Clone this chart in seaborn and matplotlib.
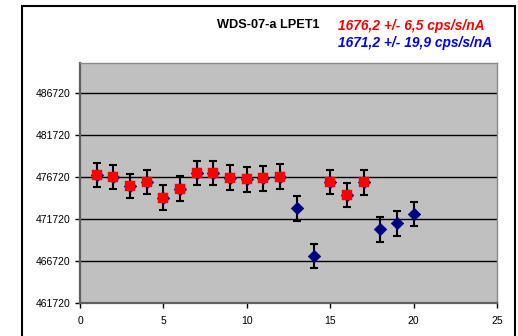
import matplotlib
matplotlib.use("Agg")
import matplotlib.pyplot as plt
import seaborn as sns
import pandas as pd
from matplotlib.patches import Rectangle

# Data
run_index = [1, 2, 3, 4, 5, 6, 7, 8, 9, 10, 11, 12, 13, 14, 15, 16, 17, 18, 19, 20]
counts = [476960, 476720, 475650, 476160, 474260, 475330, 477160, 477200, 476640, 476440,
          476560, 476760, 472990, 467350, 476160, 474580, 476080, 470490, 471200, 472280]
error = [1450] * 20
red_series = [1, 2, 3, 4, 5, 6, 7, 8, 9, 10, 11, 12, 15, 16, 17]
title = "WDS-07-a LPET1"
label_red = "1676,2 +/- 6,5 cps/s/nA"
label_blue = "1671,2 +/- 19,9 cps/s/nA"
y_ticks = [461720, 466720, 471720, 476720, 481720, 486720]
x_ticks = [0, 5, 10, 15, 20, 25]

df = pd.DataFrame({"x": run_index, "y": counts, "err": error})
df_red = df[df["x"].isin(red_series)]

sns.set_style("white")
plt.rcParams["font.family"] = ["Liberation Sans", "DejaVu Sans"]

fig = plt.figure(figsize=(5.18, 3.36), dpi=100)
ax = fig.add_axes([80 / 518, 1 - 303 / 336, 417 / 518, 240 / 336])
ax.set_facecolor("#C0C0C0")

for yt in y_ticks[1:]:
    ax.axhline(yt, color="black", lw=1.0, zorder=1)

ax.errorbar(df["x"], df["y"], yerr=df["err"], fmt="none", ecolor="black",
            elinewidth=1.5, capsize=2.6, capthick=1.5, zorder=2)
sns.scatterplot(data=df, x="x", y="y", marker="D", s=40, color="#000080",
                edgecolor="#000080", linewidth=0.5, ax=ax, zorder=3)
sns.scatterplot(data=df_red, x="x", y="y", marker="s", s=42, color="#FF0000",
                edgecolor="#FF0000", linewidth=0.3, ax=ax, zorder=4)

ax.set_xlim(0, 25)
ax.set_ylim(461720, 461720 + 240 / 42 * 5000)
ax.set_xticks(x_ticks)
ax.set_yticks(y_ticks)
ax.set_xlabel("")
ax.set_ylabel("")
ax.tick_params(axis="both", labelsize=7.5, colors="black", length=3.5, width=1,
               direction="out", left=True, bottom=True)
ax.tick_params(axis="x", pad=6)
for side in ["left", "bottom"]:
    ax.spines[side].set_color("#606060")
    ax.spines[side].set_linewidth(1.6)
for side in ["top", "right"]:
    ax.spines[side].set_color("#8A8A8A")
    ax.spines[side].set_linewidth(1.0)
    ax.spines[side].set_visible(True)

fig.patches.append(Rectangle((22 / 518, -0.05), 493 / 518, 1.05 - 6 / 336,
                             transform=fig.transFigure, fill=False,
                             edgecolor="black", lw=1.5))

fig.text(268 / 518, 1 - 25 / 336, title, ha="center", va="center",
         fontsize=9.2, fontweight="bold", color="black")
fig.text(338 / 518, 1 - 26 / 336, label_red, ha="left", va="center",
         fontsize=9.9, fontweight="bold", fontstyle="italic", color="#FF0000")
fig.text(338 / 518, 1 - 43 / 336, label_blue, ha="left", va="center",
         fontsize=9.9, fontweight="bold", fontstyle="italic", color="#0000FF")

fig.savefig("out.png", dpi=100)
